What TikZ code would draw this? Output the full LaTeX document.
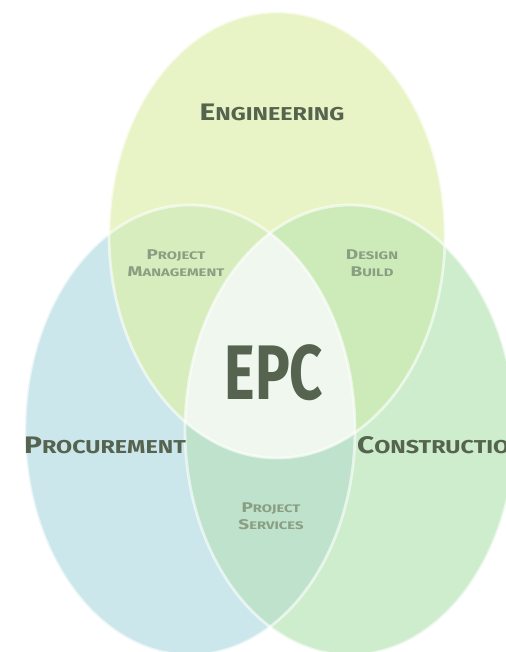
\documentclass[tikz,border=0pt]{standalone}
\usepackage{fontspec}
\setmainfont{Fira Sans}
\usetikzlibrary{positioning}

\definecolor{engfill}{HTML}{E9F4C6}
\definecolor{procfill}{HTML}{CBE7EC}
\definecolor{consfill}{HTML}{CDEDCD}
\definecolor{engproc}{HTML}{D7EDBD}
\definecolor{engcons}{HTML}{CCEBB9}
\definecolor{proccons}{HTML}{BEE2CB}
\definecolor{epcfill}{HTML}{EFF7EE}
\definecolor{labeltext}{HTML}{55634F}
\definecolor{smalltext}{HTML}{8A9E82}

% fake small caps: first letter full size, the rest smaller
\newcommand\fakesc[2]{#1\scalebox{0.78}{#2}}
% wide letters
\newcommand\widen[2]{\scalebox{#1}[1]{#2}}

\tikzset{
  bigname/.style={font=\fontsize{34}{34}\selectfont\bfseries, text=labeltext, inner sep=0pt},
  smallname/.style={font=\fontsize{20}{24}\selectfont\bfseries, text=smalltext, inner sep=0pt, align=center},
  rim/.style={draw=white, draw opacity=0.6, line width=4pt}
}

\def\eng{(277,235) ellipse [x radius=168, y radius=223]}
\def\proc{(190,430) ellipse [x radius=165, y radius=225]}
\def\cons{(350,430) ellipse [x radius=165, y radius=225]}

\begin{document}
\begin{tikzpicture}[x=0.05cm, y=-0.05cm]
\useasboundingbox (0,0) rectangle (506,652);
\fill[white] (0,0) rectangle (506,652);

% the three sets
\fill[engfill] \eng;
\fill[procfill] \proc;
\fill[consfill] \cons;
% overlaps
\begin{scope}
  \clip \proc;
  \fill[proccons] \cons;
\end{scope}
\begin{scope}
  \clip \eng;
  \fill[engproc] \proc;
  \fill[engcons] \cons;
\end{scope}
\begin{scope}
  \clip \eng;
  \clip \proc;
  \fill[epcfill] \cons;
\end{scope}
\draw[rim] \eng;
\draw[rim] \proc;
\draw[rim] \cons;

% labels
\node[bigname] (eng) at (272,112) {\widen{1.25}{\fakesc{E}{NGINEERING}}};
\node[bigname] (proc) at (105,445) {\widen{1.25}{\fakesc{P}{ROCUREMENT}}};
\node[bigname, anchor=west] (cons) at (357,445) {\widen{1.25}{\fakesc{C}{ONSTRUCTION}}};
\node[smallname] (pm) at (176,263) {\widen{1.35}{\fakesc{P}{ROJECT}}\\\widen{1.35}{\fakesc{M}{ANAGEMENT}}};
\node[smallname] (db) at (372,263) {\widen{1.35}{\fakesc{D}{ESIGN}}\\\widen{1.35}{\fakesc{B}{UILD}}};
\node[smallname] (ps) at (271,516) {\widen{1.35}{\fakesc{P}{ROJECT}}\\\widen{1.35}{\fakesc{S}{ERVICES}}};
\node[font=\fontsize{110}{110}\selectfont\bfseries, text=labeltext, inner sep=0pt] (epc) at (274,373) {\scalebox{0.75}[1]{EPC}};

\end{tikzpicture}
\end{document}
